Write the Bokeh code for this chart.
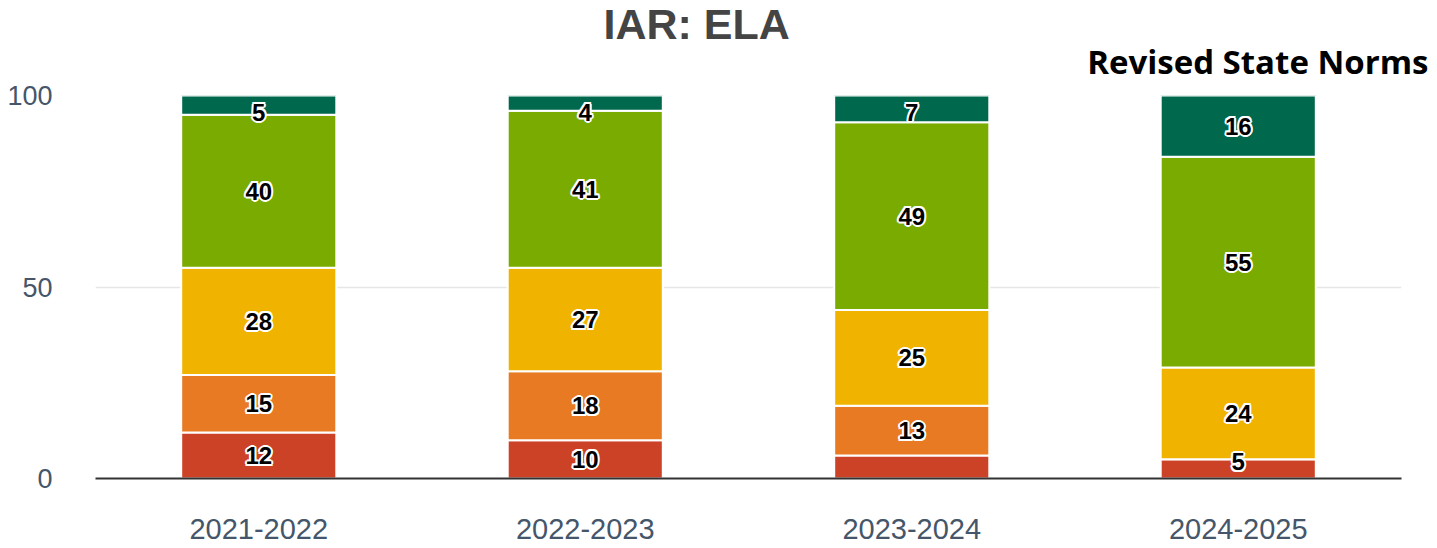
from bokeh.plotting import figure
from bokeh.models import ColumnDataSource, Title, FactorRange, FixedTicker
from bokeh.core.properties import value
from bokeh.embed import file_html
from bokeh.resources import INLINE

years = ["2021-2022", "2022-2023", "2023-2024", "2024-2025"]
level1 = [12, 10, 6, 5]
level2 = [15, 18, 13, 0]
level3 = [28, 27, 25, 24]
level4 = [40, 41, 49, 55]
level5 = [5, 4, 7, 16]
show_label = {"level1": [True, True, False, True],
              "level2": [True, True, True, False],
              "level3": [True, True, True, True],
              "level4": [True, True, True, True],
              "level5": [True, True, True, True]}
y_ticks = [0, 50, 100]
title_text = "IAR: ELA"
subtitle_text = "Revised State Norms"

stackers = ["level1", "level2", "level3", "level4", "level5"]
colors = ["#cc4226", "#e77a23", "#f0b400", "#7aab00", "#00684c"]
series = [level1, level2, level3, level4, level5]

data = {"years": years}
for k, s in zip(stackers, series):
    data[k] = s
src = ColumnDataSource(data)

W, H = 1430, 546
p = figure(x_range=FactorRange(*years, range_padding=0), y_range=(0, 100),
           width=W, height=H, output_backend="svg", toolbar_location=None,
           min_border_left=95, min_border_right=29, min_border_top=95,
           min_border_bottom=68)
p.outline_line_color = None

p.vbar_stack(stackers, x="years", width=0.475, color=colors, source=src,
             line_color="white", line_width=2)

# labels
lx, ly, lt = [], [], []
for i, y in enumerate(years):
    base = 0
    for k, s in zip(stackers, series):
        v = s[i]
        if v > 0 and show_label[k][i]:
            mid = base + v / 2
            mid = min(max(mid, 4.4), 95.6)
            lx.append(y)
            ly.append(mid)
            lt.append(str(v))
        base += v
lsrc = ColumnDataSource(dict(x=lx, y=ly, t=lt))
font = value("Liberation Sans")
offs = [(-2, 0), (2, 0), (0, -2), (0, 2), (-1.5, -1.5), (1.5, 1.5), (-1.5, 1.5), (1.5, -1.5)]
for dx, dy in offs:
    p.text(x="x", y="y", text="t", source=lsrc, text_font=font, text_font_style="bold",
           text_font_size="24px", text_color="white", text_align="center",
           text_baseline="middle", x_offset=dx, y_offset=dy)
p.text(x="x", y="y", text="t", source=lsrc, text_font=font, text_font_style="bold",
       text_font_size="24px", text_color="black", text_align="center",
       text_baseline="middle")

# axes
p.yaxis.ticker = FixedTicker(ticks=y_ticks)
p.yaxis.axis_line_color = None
p.yaxis.major_tick_line_color = None
p.yaxis.minor_tick_line_color = None
p.yaxis.major_label_text_font = "Liberation Sans"
p.yaxis.major_label_text_font_size = "27px"
p.yaxis.major_label_text_color = "#45566a"
p.yaxis.major_label_standoff = 37

p.xaxis.axis_line_color = "#333333"
p.xaxis.axis_line_width = 2
p.xaxis.major_tick_line_color = None
p.xaxis.minor_tick_line_color = None
p.xaxis.major_label_text_font = "Liberation Sans"
p.xaxis.major_label_text_font_size = "29px"
p.xaxis.major_label_text_color = "#45566a"
p.xaxis.major_label_standoff = 34

p.xgrid.grid_line_color = None
p.ygrid.grid_line_color = "#e6e6e6"
p.ygrid.grid_line_width = 1.5

p.add_layout(Title(text=subtitle_text, align="right", offset=-27,
                   text_font="Open Sans", text_font_style="bold",
                   text_font_size="33px", text_color="#000000", standoff=24), "above")
p.add_layout(Title(text=title_text, align="left", offset=508,
                   text_font="Liberation Sans", text_font_style="bold",
                   text_font_size="43px", text_color="#444444", standoff=-47), "above")

open("out.html", "w").write(file_html(p, INLINE))
